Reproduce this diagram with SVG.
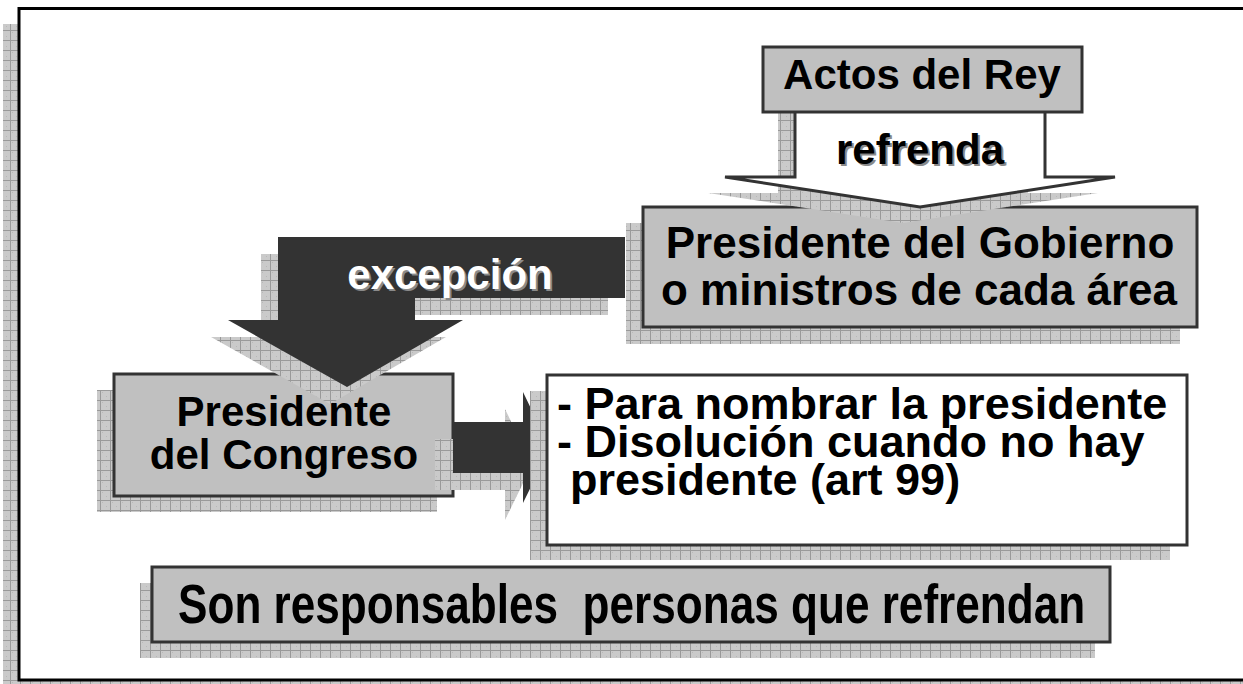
<svg xmlns="http://www.w3.org/2000/svg" width="1243" height="684" viewBox="0 0 1243 684">
<style>
.t{font-family:"Liberation Sans",Arial,sans-serif;font-weight:bold;fill:#000}
.f42{font-size:42px}
.f44{font-size:44px}
.f45{font-size:45px}
.f56{font-size:56px}
.c{text-anchor:middle}
.box{fill:#c0c0c0;stroke:#333;stroke-width:3}
.wbox{fill:#fff;stroke:#333;stroke-width:3}
.sh{fill:url(#grid)}
.tsh{fill:#8a8a8a}
.white{fill:#fff}
</style>
<defs>
<pattern id="grid" width="10" height="10" patternUnits="userSpaceOnUse">
<rect width="10" height="10" fill="#cacaca"/>
<rect x="2" y="2" width="1" height="1" fill="#b8b8b8"/>
<rect x="6" y="6" width="1" height="1" fill="#b8b8b8"/>
<path d="M0 0.5H10M0.5 0V10" stroke="#999" stroke-width="1"/>
</pattern>
</defs>
<rect width="1243" height="684" fill="#fff"/>
<g id="frame">
<rect class="sh" x="3" y="24" width="1240" height="672"/>
<rect x="19" y="8.5" width="1250" height="671.5" fill="#fff" stroke="#000" stroke-width="3"/>
</g>
<g id="gobierno">
<rect class="sh" x="626" y="223" width="554" height="121"/>
<rect class="box" x="643" y="207" width="554" height="120"/>
<text class="t c f44" x="920" y="258">Presidente del Gobierno</text>
<text class="t c f44" x="919" y="305">o ministros de cada área</text>
</g>
<g id="congreso">
<rect class="sh" x="97" y="390" width="340" height="122"/>
<rect class="box" x="114" y="374" width="339" height="122"/>
<text class="t c f42" x="284" y="426">Presidente</text>
<text class="t c f42" x="284" y="469">del Congreso</text>
</g>
<g id="connectors">
<g id="refrenda">
<polygon class="sh" points="778,96 1028,96 1028,193 1098,193 903,223 708,193 778,193"/>
<polygon points="795,80 1045,80 1045,177 1115,177 920,207 725,177 795,177" fill="#fff" stroke="#333" stroke-width="3" stroke-linejoin="miter"/>
<text class="t c f42 tsh" x="922" y="166">refrenda</text>
<text class="t c f42" x="920" y="164">refrenda</text>
</g>
<g id="excepcion">
<polygon class="sh" points="261,254 608,254 608,315 398,315 398,337 446,337 330,404 211,337 261,337"/>
<polygon points="278,237 625,237 625,298 415,298 415,320 463,320 347,387 228,320 278,320" fill="#333"/>
<text class="t c f42 tsh" x="452" y="291">excepción</text>
<text class="t c f42 white" x="450" y="289">excepción</text>
</g>
<g id="toright">
<polygon class="sh" points="435,439 505,439 505,409 532,465 505,520 505,490 435,490"/>
<polygon points="453,422 523,422 523,392 550,448 523,503 523,473 453,473" fill="#333"/>
</g>
</g>
<g id="rey">
<rect class="box" x="763" y="47" width="319" height="65"/>
<text class="t c f42" x="922" y="89">Actos del Rey</text>
</g>
<g id="casos">
<rect class="sh" x="530" y="391" width="640" height="169"/>
<rect class="wbox" x="547" y="375" width="640" height="170"/>
<text class="t f45" x="557" y="419">- Para nombrar la presidente</text>
<text class="t f45" x="557" y="457">- Disolución cuando no hay</text>
<text class="t f45" x="570" y="495">presidente (art 99)</text>
</g>
<g id="responsables">
<rect class="sh" x="140" y="583" width="955" height="75"/>
<rect class="box" x="152" y="567" width="958" height="75"/>
<text class="t f56" transform="translate(178,623) scale(0.788,1)" x="0" y="0">Son responsables&#160; personas que refrendan</text>
</g>
</svg>
